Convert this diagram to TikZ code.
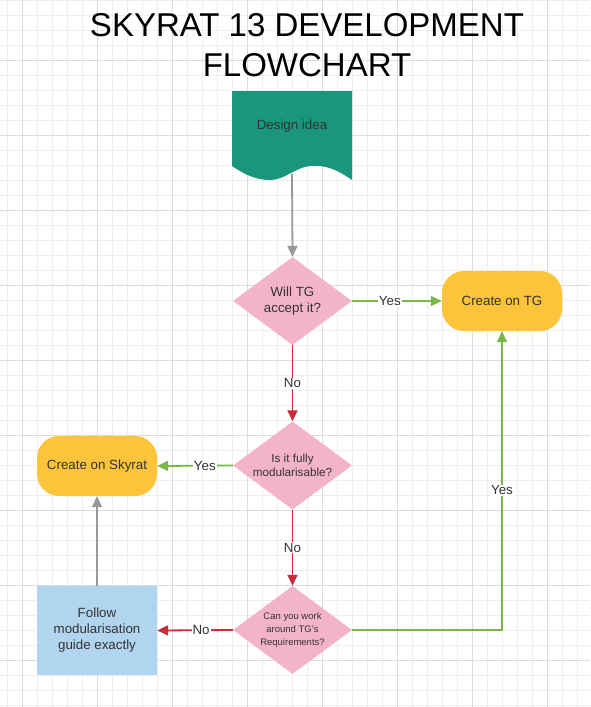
\documentclass[tikz,border=0pt]{standalone}
\usepackage{fontspec}
\setmainfont{Liberation Sans}
\usetikzlibrary{shapes.geometric,arrows.meta}

\definecolor{gridminor}{HTML}{EEEEEE}
\definecolor{gridmajor}{HTML}{DCDCDC}
\definecolor{ideateal}{HTML}{19967D}
\definecolor{askpink}{HTML}{F4B4C7}
\definecolor{endyellow}{HTML}{FCC43A}
\definecolor{guideblue}{HTML}{B1D5EF}
\definecolor{yesgreen}{HTML}{7AB648}
\definecolor{nored}{HTML}{C92D39}
\definecolor{flowgray}{HTML}{999999}
\definecolor{inktext}{HTML}{333333}

\begin{document}
\begin{tikzpicture}[x=1pt, y=-1pt,
  every node/.style={font=\fontsize{13.33}{16}\selectfont, text=inktext},
  question/.style={diamond, aspect=1.35, fill=askpink, minimum width=119pt, minimum height=88pt, inner sep=0pt, align=center},
  endpoint/.style={rectangle, rounded corners=22pt, fill=endyellow, minimum width=120pt, minimum height=60pt},
  flow/.style={line width=1.8pt, -{Triangle[length=11pt,width=10pt]}},
  answer/.style={fill=white, inner sep=1pt}]
% Page size
\useasboundingbox (0,0) rectangle (590,707);
\fill[white] (0,0) rectangle (590,707);

% Grid paper
\foreach \k in {0,...,39} \draw[gridminor, line width=0.8pt] ({7.33+15*\k},0) -- ({7.33+15*\k},707);
\foreach \k in {0,...,47} \draw[gridminor, line width=0.8pt] (0,{15*\k}) -- (590,{15*\k});
\foreach \k in {0,...,7} \draw[gridmajor, line width=0.8pt] ({22.33+75*\k},0) -- ({22.33+75*\k},707);
\foreach \k in {0,...,8} \draw[gridmajor, line width=0.8pt] (0,{60+75*\k}) -- (590,{60+75*\k});

% Title
\node[align=center, text=black, font=\fontsize{33}{40}\selectfont] (title) at (307,45) {SKYRAT 13 DEVELOPMENT\\FLOWCHART};

% Questions
\node[question] (accept) at (292.5,301) {Will TG\\accept it?};
\node[question, font=\fontsize{11.7}{13.4}\selectfont] (modular) at (292.5,465.5) {Is it fully\\modularisable?};
\node[question, font=\fontsize{9.5}{13}\selectfont] (workaround) at (292.5,630) {Can you work\\around TG's\\Requirements?};

% Outcomes
\node[endpoint] (ontg) at (502,301) {Create on TG};
\node[endpoint] (onskyrat) at (97,466) {Create on Skyrat};
\node[fill=guideblue, minimum width=120pt, minimum height=89pt, align=center] (guide) at (97,630.5) {Follow\\modularisation\\guide exactly};

% Start (document shape)
\coordinate (ideabase) at (292,174);
\draw[flow, flowgray] (ideabase) -- (accept.north);
\fill[ideateal] (232,91) -- (352,91) -- (352,180)
  .. controls (335,168) and (324,165) .. (310,166)
  .. controls (296,167) and (285,180) .. (270,180)
  .. controls (255,180) and (244,174) .. (232,166) -- cycle;
\node (idea) at (292,126) {Design idea};

% Connectors
\draw[flow, yesgreen] (accept.east) -- node[answer, pos=0.42] {Yes} (ontg.west);
\draw[flow, nored] (accept.south) -- node[answer] {No} (modular.north);
\draw[flow, yesgreen] (modular.west) -- node[answer, pos=0.37] {Yes} (onskyrat.east);
\draw[flow, nored] (modular.south) -- node[answer] {No} (workaround.north);
\draw[flow, nored] (workaround.west) -- node[answer, pos=0.42] {No} (guide.east);
\draw[flow, yesgreen] (workaround.east) -| node[answer, pos=0.734] {Yes} (ontg.south);
\draw[flow, flowgray] (guide.north) -- (onskyrat.south);
\end{tikzpicture}
\end{document}
